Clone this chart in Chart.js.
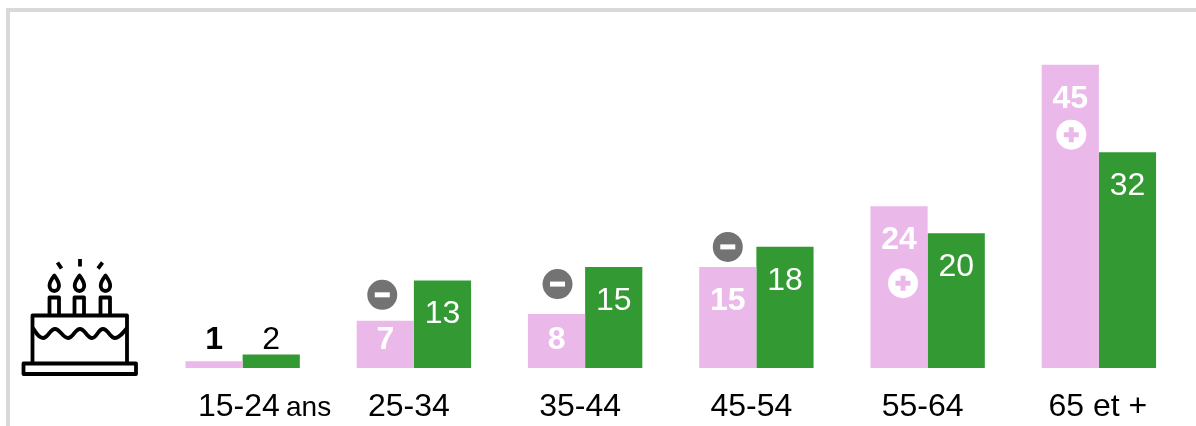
<!DOCTYPE html>
<html>
<head>
<meta charset="utf-8">
<style>
html,body{margin:0;padding:0;background:#fff;overflow:hidden}
#wrap{position:relative;width:1196px;height:426px}
#frame{position:absolute;left:6px;top:8px;right:0;bottom:0;border-top:4px solid #d9d9d9;border-left:4px solid #d9d9d9}
canvas{position:absolute;left:0;top:0}
</style>
<script src="https://cdn.jsdelivr.net/npm/chart.js@4"></script>
</head>
<body>
<div id="wrap"><div id="frame"></div><canvas id="c" width="1196" height="426"></canvas></div>
<script>
const categories = ["15-24", "25-34", "35-44", "45-54", "55-64", "65 et +"];
const seriesPink = [1, 7, 8, 15, 24, 45];
const seriesGreen = [2, 13, 15, 18, 20, 32];
const badges = ["", "-", "-", "-", "+", "+"];

const PINK = "#eab9ea", GREEN = "#339933", GREY = "#737373";
const FONT = '"Liberation Sans", Arial, sans-serif';

// Visual placement offsets, relative to the scale positions
const tickDx = [-5, -5, -5, -5, -5, -1];
const badgeDx = [0, -3, 1, 0, 4, 1];
const badgeDy = [0, -26, -30, -20, 77, 70];

const cakePaths = [
  "M23.5 363.5H136V374H23.5Z",
  "M32.5 362V315.5H127V362",
  "M33 328C36 333 39 338 43 338C48 338 50 329 55 329C60 329 63 338 68 338C73 338 75 329 80 329C85 329 87 338 92 338C97 338 98 329 103 329C108 329 110 338 115 338C119 338 123 333 127 328",
  "M49.5 315V297.5H59V315M74.5 315V297.5H84V315M100.5 315V297.5H110V315",
  "M54.3 275.500C51 280 49.500 282 49.500 285.500C49.500 289 51.500 291 54.300 291C57 291 59 289 59 285.500C59 282 57.500 280 54.300 275.500Z",
  "M79.500 275.500C76.200 280 74.700 282 74.700 285.500C74.700 289 76.700 291 79.500 291C82.200 291 84.200 289 84.200 285.500C84.200 282 82.700 280 79.500 275.500Z",
  "M105.500 275.500C102.200 280 100.700 282 100.700 285.500C100.700 289 102.700 291 105.500 291C108.200 291 110.200 289 110.200 285.500C110.200 282 108.700 280 105.500 275.500Z",
  "M80 259V266.500M57.500 262.500L61.500 268.500M102.500 262.500L98 268.500"
];

const overlay = {
  id: "overlay",
  afterDraw(chart) {
    const ctx = chart.ctx, x = chart.scales.x, y = chart.scales.y;
    ctx.save();
    const metaP = chart.getDatasetMeta(0), metaG = chart.getDatasetMeta(1);
    const base = y.getPixelForValue(0);
    ctx.textBaseline = "middle";
    ctx.textAlign = "center";

    const labelY = v => Math.min(y.getPixelForValue(v) + 33, base - 29);

    categories.forEach((cat, i) => {
      const pv = seriesPink[i], gv = seriesGreen[i];
      const small = pv <= 1;
      ctx.font = "bold 32px " + FONT;
      ctx.fillStyle = small ? "#000" : "#fff";
      ctx.fillText(String(pv), metaP.data[i].x, labelY(pv) + 1);
      ctx.font = "32px " + FONT;
      ctx.fillStyle = gv <= 2 ? "#000" : "#fff";
      ctx.fillText(String(gv), metaG.data[i].x, labelY(gv) + 1);

      if (badges[i]) {
        const bx = metaP.data[i].x + badgeDx[i];
        const by = y.getPixelForValue(pv) + badgeDy[i];
        const minus = badges[i] === "-";
        ctx.beginPath();
        ctx.arc(bx, by, 15, 0, Math.PI * 2);
        ctx.fillStyle = minus ? GREY : "#fff";
        ctx.fill();
        ctx.strokeStyle = minus ? "#fff" : PINK;
        ctx.lineWidth = 5;
        ctx.lineCap = "butt";
        ctx.beginPath();
        ctx.moveTo(bx - 7.5, by);
        ctx.lineTo(bx + 7.5, by);
        if (!minus) {
          ctx.moveTo(bx, by - 7.5);
          ctx.lineTo(bx, by + 7.5);
        }
        ctx.stroke();
      }

      // category labels
      ctx.fillStyle = "#000";
      const tx = x.getPixelForTick(i);
      if (i === 0) {
        ctx.textAlign = "left";
        ctx.font = "32px " + FONT;
        ctx.fillText(cat, 198, 407);
        ctx.font = "28px " + FONT;
        ctx.fillText("ans", 286, 408);
        ctx.textAlign = "center";
      } else {
        ctx.font = "32px " + FONT;
        ctx.fillText(cat, tx + tickDx[i], 407);
      }
    });

    // cake icon
    ctx.strokeStyle = "#000";
    ctx.lineWidth = 3.8;
    ctx.lineJoin = "round";
    ctx.lineCap = "butt";
    cakePaths.forEach(d => ctx.stroke(new Path2D(d)));
    ctx.restore();
  }
};

new Chart(document.getElementById("c"), {
  type: "bar",
  data: {
    labels: categories,
    datasets: [
      { label: "A", data: seriesPink, backgroundColor: PINK, borderWidth: 0 },
      { label: "B", data: seriesGreen, backgroundColor: GREEN, borderWidth: 0 }
    ]
  },
  options: {
    responsive: false,
    animation: false,
    events: [],
    layout: { padding: { left: 157, right: 11.5, top: 31, bottom: 58 } },
    datasets: { bar: { barPercentage: 1, categoryPercentage: 0.668 } },
    plugins: { legend: { display: false }, tooltip: { enabled: false } },
    scales: {
      x: { display: false, grid: { display: false } },
      y: { display: false, min: 0, max: 50, grid: { display: false } }
    }
  },
  plugins: [overlay]
});
</script>
</body>
</html>
